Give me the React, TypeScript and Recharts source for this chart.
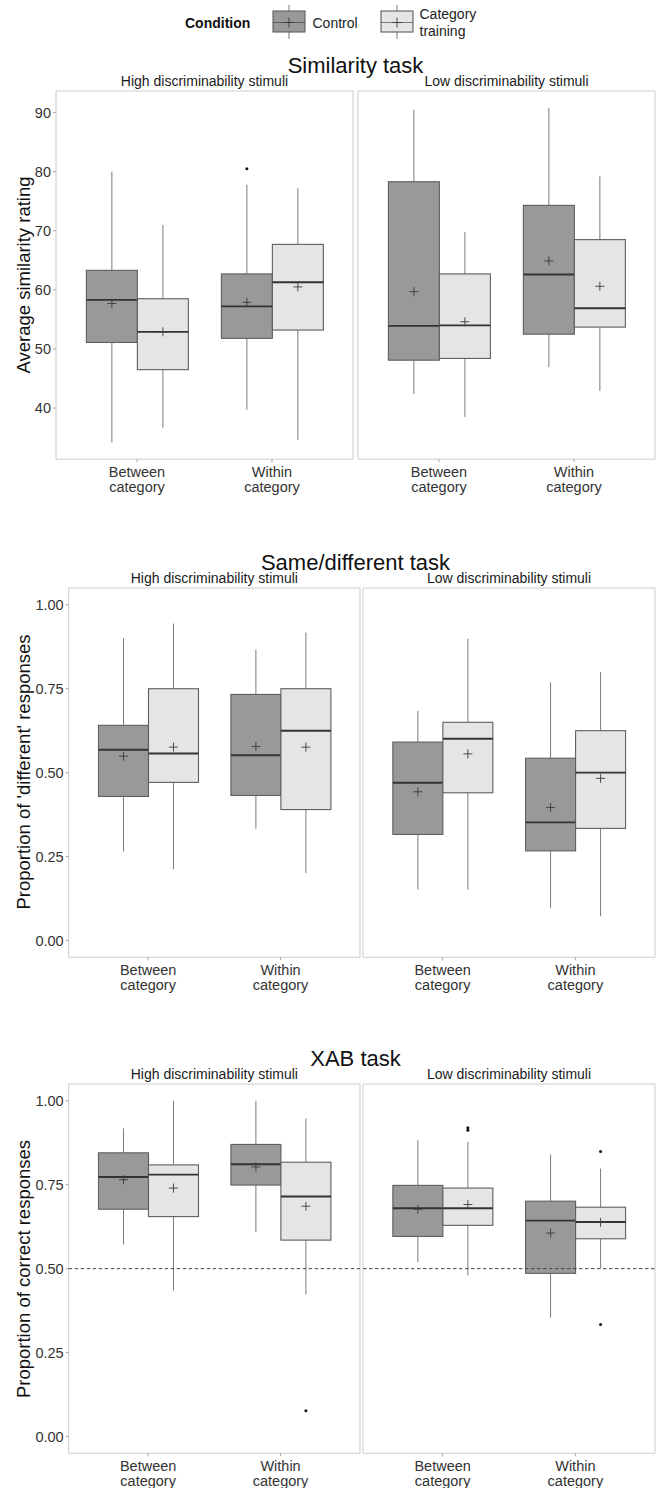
import React from 'react';
import { ComposedChart, Bar, XAxis, YAxis, ReferenceArea, ReferenceLine } from 'recharts';

type Stat = { lo: number; q1: number; med: number; q3: number; hi: number; mean: number; out: number[] };

const FONT = '"Liberation Sans", Arial, Helvetica, sans-serif';

// ---------- data ----------
const categories = ['Between category', 'Within category'];
const conditions = ['Control', 'Category training'];
const facetLabels = ['High discriminability stimuli', 'Low discriminability stimuli'];
const taskTitles = ['Similarity task', 'Same/different task', 'XAB task'];
const yTitles = ['Average similarity rating', "Proportion of 'different' responses", 'Proportion of correct responses'];

const similarityTicks = [40, 50, 60, 70, 80, 90];
const proportionTicks = [0, 0.25, 0.5, 0.75, 1];
const xabChance = 0.5;

// Similarity task
const simHighControl: Stat[] = [
  { lo: 34.2, q1: 51.1, med: 58.3, q3: 63.3, hi: 80.0, mean: 57.7, out: [] },
  { lo: 39.7, q1: 51.8, med: 57.2, q3: 62.7, hi: 77.8, mean: 57.9, out: [80.5] },
];
const simHighTraining: Stat[] = [
  { lo: 36.7, q1: 46.5, med: 52.9, q3: 58.5, hi: 71.0, mean: 52.9, out: [] },
  { lo: 34.6, q1: 53.2, med: 61.3, q3: 67.7, hi: 77.2, mean: 60.5, out: [] },
];
const simLowControl: Stat[] = [
  { lo: 42.4, q1: 48.1, med: 53.9, q3: 78.3, hi: 90.5, mean: 59.7, out: [] },
  { lo: 46.9, q1: 52.5, med: 62.6, q3: 74.3, hi: 90.8, mean: 64.9, out: [] },
];
const simLowTraining: Stat[] = [
  { lo: 38.5, q1: 48.4, med: 54.0, q3: 62.7, hi: 69.8, mean: 54.6, out: [] },
  { lo: 42.9, q1: 53.7, med: 56.9, q3: 68.5, hi: 79.2, mean: 60.6, out: [] },
];

// Same/different task
const sdHighControl: Stat[] = [
  { lo: 0.265, q1: 0.429, med: 0.568, q3: 0.641, hi: 0.900, mean: 0.549, out: [] },
  { lo: 0.333, q1: 0.432, med: 0.552, q3: 0.733, hi: 0.866, mean: 0.578, out: [] },
];
const sdHighTraining: Stat[] = [
  { lo: 0.212, q1: 0.471, med: 0.557, q3: 0.750, hi: 0.944, mean: 0.576, out: [] },
  { lo: 0.201, q1: 0.390, med: 0.625, q3: 0.750, hi: 0.917, mean: 0.576, out: [] },
];
const sdLowControl: Stat[] = [
  { lo: 0.152, q1: 0.316, med: 0.470, q3: 0.591, hi: 0.684, mean: 0.443, out: [] },
  { lo: 0.097, q1: 0.267, med: 0.352, q3: 0.543, hi: 0.769, mean: 0.396, out: [] },
];
const sdLowTraining: Stat[] = [
  { lo: 0.152, q1: 0.440, med: 0.601, q3: 0.650, hi: 0.899, mean: 0.556, out: [] },
  { lo: 0.072, q1: 0.334, med: 0.500, q3: 0.625, hi: 0.800, mean: 0.483, out: [] },
];

// XAB task
const xabHighControl: Stat[] = [
  { lo: 0.572, q1: 0.677, med: 0.773, q3: 0.845, hi: 0.918, mean: 0.765, out: [] },
  { lo: 0.609, q1: 0.749, med: 0.811, q3: 0.870, hi: 1.0, mean: 0.803, out: [] },
];
const xabHighTraining: Stat[] = [
  { lo: 0.435, q1: 0.655, med: 0.780, q3: 0.809, hi: 1.0, mean: 0.740, out: [] },
  { lo: 0.423, q1: 0.585, med: 0.715, q3: 0.817, hi: 0.947, mean: 0.686, out: [0.077] },
];
const xabLowControl: Stat[] = [
  { lo: 0.520, q1: 0.596, med: 0.680, q3: 0.748, hi: 0.883, mean: 0.677, out: [] },
  { lo: 0.354, q1: 0.486, med: 0.643, q3: 0.701, hi: 0.840, mean: 0.606, out: [] },
];
const xabLowTraining: Stat[] = [
  { lo: 0.480, q1: 0.629, med: 0.680, q3: 0.740, hi: 0.878, mean: 0.691, out: [0.912, 0.920] },
  { lo: 0.501, q1: 0.589, med: 0.639, q3: 0.683, hi: 0.798, mean: 0.638, out: [0.849, 0.334] },
];

// ---------- styles ----------
const CONTROL_FILL = '#999999';
const TRAINING_FILL = '#e5e5e5';
const BOX_STROKE = '#5e5e5e';
const WHISKER = '#7a7a7a';
const MEDIAN = '#333333';
const MEAN = '#3a3a3a';
const BORDER = '#cccccc';
const TICK_COLOR = '#333333';

function facetData(ctrl: Stat[], trn: Stat[]) {
  return categories.map((cat, i) => ({
    cat,
    control: [ctrl[i].q1, ctrl[i].q3],
    training: [trn[i].q1, trn[i].q3],
    ctrlStat: ctrl[i],
    trnStat: trn[i],
  }));
}

function BoxShape(props: any) {
  const { x, y, width, height, stat, fill } = props;
  const s: Stat = stat;
  const top = Math.min(y, y + height);
  const h = Math.abs(height);
  const ppu = h / (s.q3 - s.q1);
  const py = (v: number) => top + (s.q3 - v) * ppu;
  const cx = x + width / 2;
  const my = py(s.mean);
  return (
    <g>
      <line x1={cx} x2={cx} y1={py(s.hi)} y2={py(s.q3)} stroke={WHISKER} strokeWidth={1} />
      <line x1={cx} x2={cx} y1={py(s.q1)} y2={py(s.lo)} stroke={WHISKER} strokeWidth={1} />
      <rect x={x} y={top} width={width} height={h} fill={fill} stroke={BOX_STROKE} strokeWidth={1.1} />
      <line x1={x} x2={x + width} y1={py(s.med)} y2={py(s.med)} stroke={MEDIAN} strokeWidth={1.9} />
      <path d={`M${cx - 4.5},${my}H${cx + 4.5}M${cx},${my - 4.5}V${my + 4.5}`} stroke={MEAN} strokeWidth={0.9} fill="none" />
      {s.out.map((o, k) => (
        <circle key={k} cx={cx} cy={py(o)} r={1.5} fill="#111" />
      ))}
    </g>
  );
}

function XTick(props: any) {
  const { x, y, payload } = props;
  const words = String(payload.value).split(' ');
  return (
    <text x={x} y={y} textAnchor="middle" fill={TICK_COLOR} fontSize={14.5} fontFamily={FONT}>
      <tspan x={x} dy={12.8}>{words[0]}</tspan>
      <tspan x={x} dy={15.4}>{words[1]}</tspan>
    </text>
  );
}

type FacetProps = {
  ctrl: Stat[];
  trn: Stat[];
  panelLeft: number;
  panelRight: number;
  panelTop: number;
  panelBottom: number;
  showY: boolean;
  domain: [number, number];
  ticks: number[];
  fmt: (v: number) => string;
  chance?: number;
};

function Facet(p: FacetProps) {
  const data = facetData(p.ctrl, p.trn);
  const plotW = p.panelRight - p.panelLeft;
  const plotH = p.panelBottom - p.panelTop;
  const pad = plotW / 22;
  const xAxisH = 50;
  const width = p.showY ? p.panelRight + 1 : plotW + 2;
  const height = plotH + 1 + xAxisH;
  const left = p.showY ? 0 : p.panelLeft - 1;
  return (
    <div style={{ position: 'absolute', left, top: p.panelTop - 1, width, height }}>
      <ComposedChart
        width={width}
        height={height}
        data={data}
        margin={{ top: 1, right: 1, bottom: 0, left: p.showY ? 0 : 1 }}
        barCategoryGap="12.5%"
        barGap={0}
      >
        <XAxis
          dataKey="cat"
          type="category"
          padding={{ left: pad, right: pad }}
          axisLine={false}
          tickLine={{ stroke: '#a8a8a8' }}
          tickSize={3}
          tickMargin={2}
          interval={0}
          height={xAxisH}
          tick={<XTick />}
        />
        <XAxis xAxisId="frame" type="number" domain={[0, 1]} hide />
        <YAxis
          type="number"
          domain={p.domain}
          ticks={p.ticks}
          interval={0}
          hide={!p.showY}
          width={p.showY ? p.panelLeft : 0}
          axisLine={false}
          tickLine={{ stroke: '#a8a8a8' }}
          tickSize={3}
          tickMargin={2}
          tickFormatter={p.fmt}
          tick={{ fill: TICK_COLOR, fontSize: 14.5, fontFamily: FONT }}
          allowDataOverflow
        />
        <ReferenceArea xAxisId="frame" x1={0} x2={1} y1={p.domain[0]} y2={p.domain[1]} fill="none" stroke={BORDER} strokeWidth={1} ifOverflow="visible" />
        {p.chance !== undefined && (
          <ReferenceLine xAxisId="frame" y={p.chance} stroke="#444" strokeDasharray="3.5 2.5" strokeWidth={1} ifOverflow="visible" />
        )}
        <Bar
          dataKey="control"
          name={conditions[0]}
          fill={CONTROL_FILL}
          isAnimationActive={false}
          shape={(sp: any) => <BoxShape {...sp} stat={sp.payload.ctrlStat} fill={CONTROL_FILL} />}
        />
        <Bar
          dataKey="training"
          name={conditions[1]}
          fill={TRAINING_FILL}
          isAnimationActive={false}
          shape={(sp: any) => <BoxShape {...sp} stat={sp.payload.trnStat} fill={TRAINING_FILL} />}
        />
      </ComposedChart>
    </div>
  );
}

const fmtInt = (v: number) => String(v);
const fmt2 = (v: number) => v.toFixed(2);

type RowCfg = {
  title: string;
  yTitle: string;
  top: number;
  bottom: number;
  leftPanel: [number, number];
  rightPanel: [number, number];
  domain: [number, number];
  ticks: number[];
  fmt: (v: number) => string;
  high: [Stat[], Stat[]];
  low: [Stat[], Stat[]];
  chance?: number;
};

const rows: RowCfg[] = [
  {
    title: taskTitles[0], yTitle: yTitles[0], top: 91, bottom: 459.2,
    leftPanel: [56, 353], rightPanel: [358, 655], domain: [31.35, 93.65],
    ticks: similarityTicks, fmt: fmtInt,
    high: [simHighControl, simHighTraining], low: [simLowControl, simLowTraining],
  },
  {
    title: taskTitles[1], yTitle: yTitles[1], top: 587.5, bottom: 956.8,
    leftPanel: [68.7, 360], rightPanel: [363, 655], domain: [-0.05, 1.05],
    ticks: proportionTicks, fmt: fmt2,
    high: [sdHighControl, sdHighTraining], low: [sdLowControl, sdLowTraining],
  },
  {
    title: taskTitles[2], yTitle: yTitles[2], top: 1084, bottom: 1453.3,
    leftPanel: [68.7, 360], rightPanel: [363, 655], domain: [-0.05, 1.05],
    ticks: proportionTicks, fmt: fmt2,
    high: [xabHighControl, xabHighTraining], low: [xabLowControl, xabLowTraining], chance: xabChance,
  },
];

function CenterText(props: { x: number; y: number; size: number; text: string; rotate?: boolean; bold?: boolean; color?: string }) {
  return (
    <div
      style={{
        position: 'absolute',
        left: props.x,
        top: props.y,
        transform: `translate(-50%, -50%)${props.rotate ? ' rotate(-90deg)' : ''}`,
        whiteSpace: 'nowrap',
        fontFamily: FONT,
        fontSize: props.size,
        fontWeight: props.bold ? 'bold' : 'normal',
        color: props.color || '#111',
        lineHeight: 1,
      }}
    >
      {props.text}
    </div>
  );
}

function LegendKey({ x, fill }: { x: number; fill: string }) {
  return (
    <g>
      <line x1={x + 16} x2={x + 16} y1={5} y2={39} stroke={WHISKER} />
      <rect x={x} y={11} width={32} height={21} fill={fill} stroke={BOX_STROKE} strokeWidth={1.1} />
      <line x1={x} x2={x + 32} y1={22.5} y2={22.5} stroke={MEDIAN} strokeWidth={1} opacity={0.6} />
      <path d={`M${x + 11},22.5H${x + 21}M${x + 16},17.5V27.5`} stroke={MEAN} strokeWidth={0.9} />
    </g>
  );
}

export default function App() {
  return (
    <div style={{ position: 'absolute', left: 0, top: 0, width: 657, height: 1488, background: '#fff', overflow: 'hidden' }}>
      {/* legend */}
      <svg width={657} height={45} style={{ position: 'absolute', left: 0, top: 0 }}>
        <text x={185} y={28} fontFamily={FONT} fontSize={14} fontWeight="bold" fill="#111">Condition</text>
        <LegendKey x={273} fill={CONTROL_FILL} />
        <text x={312.5} y={28} fontFamily={FONT} fontSize={14} fill="#222">{conditions[0]}</text>
        <LegendKey x={381} fill={TRAINING_FILL} />
        <text x={419.5} y={19} fontFamily={FONT} fontSize={14} fill="#222">Category</text>
        <text x={419.5} y={36} fontFamily={FONT} fontSize={14} fill="#222">training</text>
      </svg>

      {rows.map((r, ri) => (
        <React.Fragment key={ri}>
          <CenterText x={355.5} y={r.top - 25} size={22} text={r.title} />
          <CenterText x={(r.leftPanel[0] + r.leftPanel[1]) / 2} y={r.top - 10} size={14} text={facetLabels[0]} color="#1a1a1a" />
          <CenterText x={(r.rightPanel[0] + r.rightPanel[1]) / 2} y={r.top - 10} size={14} text={facetLabels[1]} color="#1a1a1a" />
          <CenterText x={23.5} y={(r.top + r.bottom) / 2} size={18.5} text={r.yTitle} rotate />
          <Facet
            ctrl={r.high[0]} trn={r.high[1]}
            panelLeft={r.leftPanel[0]} panelRight={r.leftPanel[1]}
            panelTop={r.top} panelBottom={r.bottom}
            showY domain={r.domain} ticks={r.ticks} fmt={r.fmt} chance={r.chance}
          />
          <Facet
            ctrl={r.low[0]} trn={r.low[1]}
            panelLeft={r.rightPanel[0]} panelRight={r.rightPanel[1]}
            panelTop={r.top} panelBottom={r.bottom}
            showY={false} domain={r.domain} ticks={r.ticks} fmt={r.fmt} chance={r.chance}
          />
        </React.Fragment>
      ))}
    </div>
  );
}
